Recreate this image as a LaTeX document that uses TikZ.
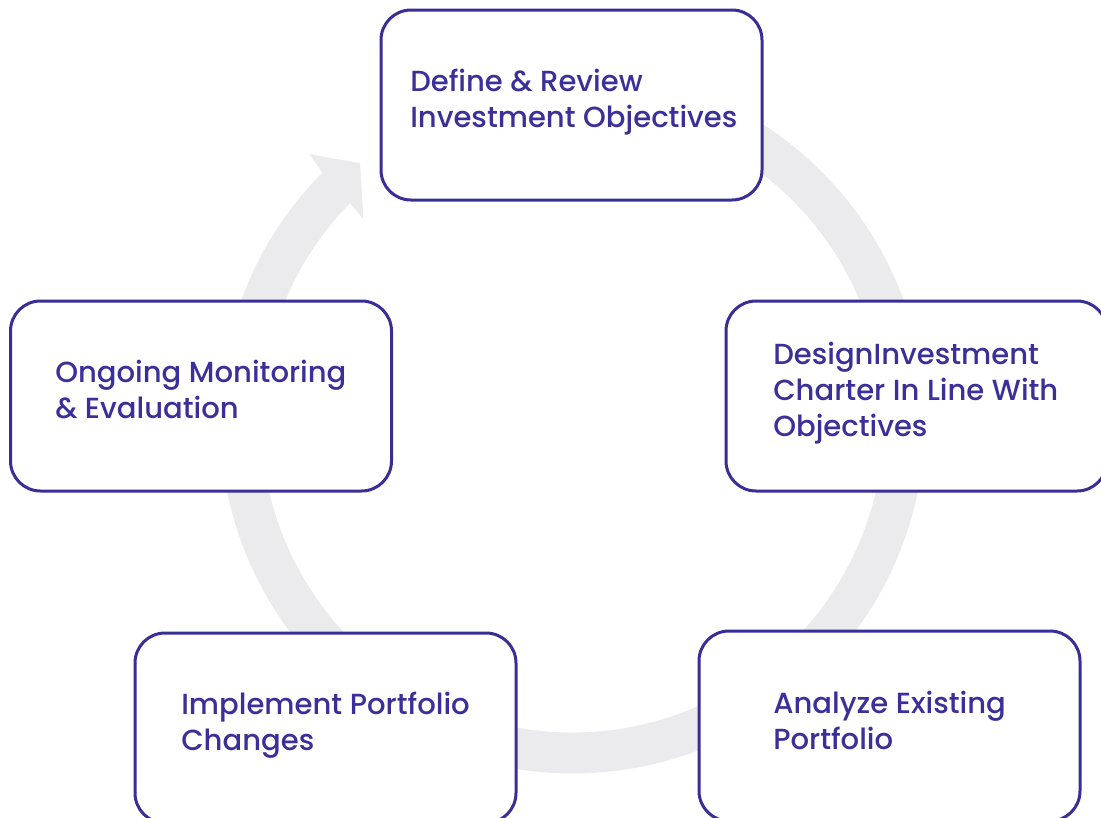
\documentclass[tikz,border=0pt]{standalone}
\usepackage{fontspec}
\setmainfont{Poppins}[UprightFont=* Medium]
\definecolor{boxpurple}{HTML}{3A2E96}
\definecolor{txtpurple}{HTML}{3B2F9A}
\definecolor{ringgray}{RGB}{235,234,236}
\begin{document}
\begin{tikzpicture}[x=0.75pt,y=-0.75pt,
  stepbox/.style={draw=boxpurple, line width=2.25pt, fill=white, rounded corners=22.5pt,
    minimum width=285.75pt, minimum height=142.5pt, inner sep=0pt},
  label/.style={anchor=base west, inner sep=0pt, text=txtpurple,
    font=\fontsize{21.8}{27}\selectfont}]
\useasboundingbox (0,0) rectangle (1101,818);
% ring with arrowhead
\begin{scope}[shift={(572.5,421)}, x=0.75pt, y=0.75pt]
  \fill[ringgray] (135.2:352.5) arc[start angle=135.2, end angle=430, radius=352.5]
    -- (430:311.5) arc[start angle=430, end angle=135.6, radius=311.5]
    -- (136.0:290.6) -- (129.5:334) -- (134.6:374.9) -- cycle;
\end{scope}
% boxes
\node[stepbox] (define)  at (571.5,105) {};
\node[stepbox] (design)  at (916.5,396) {};
\node[stepbox] (analyze) at (889.5,726) {};
\node[stepbox] (implement) at (325.5,728) {};
\node[stepbox] (monitor) at (201,396) {};
% texts
\node[label] (tdefine) at (410,91) {\vtop{\hbox{Define \& Review}\hbox{Investment Objectives}}};
\node[label] (tdesign) at (773,364) {\vtop{\hbox{DesignInvestment}\hbox{Charter In Line With}\hbox{Objectives}}};
\node[label] (tanalyze) at (773,713) {\vtop{\hbox{Analyze Existing}\hbox{Portfolio}}};
\node[label] (timplement) at (181,714) {\vtop{\hbox{Implement Portfolio}\hbox{Changes}}};
\node[label] (tmonitor) at (55,382) {\vtop{\hbox{Ongoing Monitoring}\hbox{\& Evaluation}}};
\end{tikzpicture}
\end{document}
